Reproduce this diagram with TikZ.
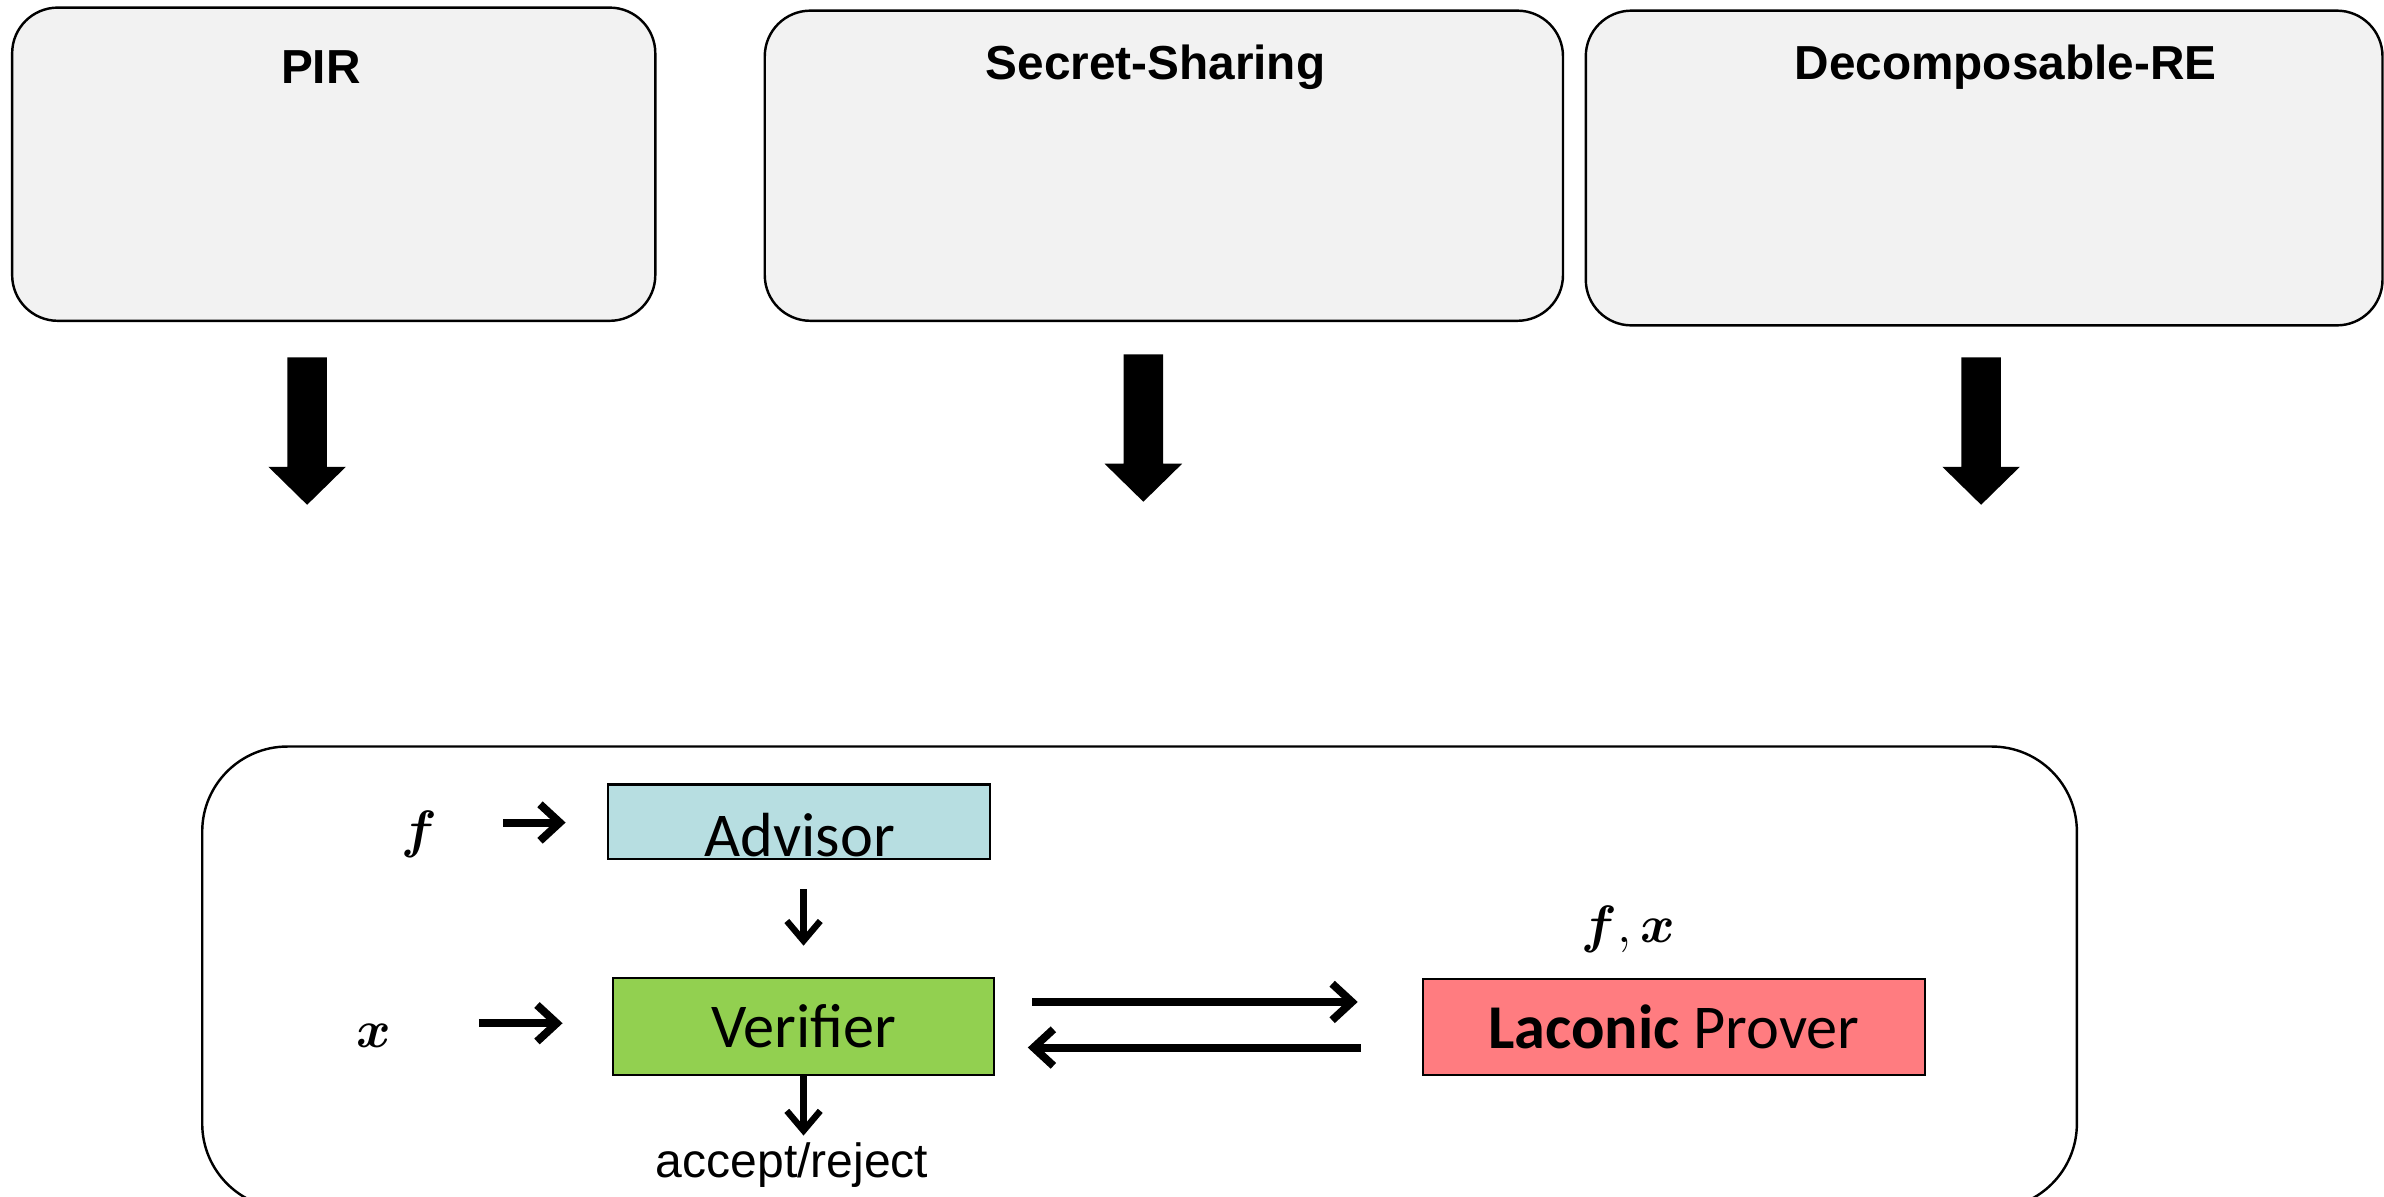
\documentclass[tikz,border=0pt]{standalone}
\usepackage{fontspec}
\usepackage{amsmath,bm}
\usetikzlibrary{arrows.meta}
\newfontfamily\headfont{Liberation Sans}
\newfontfamily\boxfont{Carlito}
\definecolor{panelfill}{HTML}{F2F2F2}
\definecolor{advfill}{HTML}{B7DEE1}
\definecolor{verfill}{HTML}{92D050}
\definecolor{prvfill}{HTML}{FF7C80}
\tikzset{
  panel/.style={draw=black, line width=0.8pt, fill=panelfill, rounded corners=15pt,
    inner sep=0pt, outer sep=0pt},
  frame/.style={draw=black, line width=0.8pt, rounded corners=28pt, inner sep=0pt, outer sep=0pt},
  party/.style={draw=black, line width=0.7pt, inner sep=0pt, outer sep=0pt,
    font=\boxfont\fontsize{20.5}{24}\selectfont},
  headtxt/.style={font=\headfont\bfseries\fontsize{15.7}{18}\selectfont, inner sep=0pt},
  mathtxt/.style={font=\fontsize{16.5}{19}\selectfont, inner sep=0pt},
  flow/.style={line width=2.6pt, -{Straight Barb[length=6.5pt,width=12pt]}},
  vflow/.style={line width=2.1pt, -{Straight Barb[length=6.5pt,width=11pt]}},
}
% block arrow pointing down: #1 = centre x, #2 = top y, #3 = tip y
\newcommand\downblock[3]{%
  \fill[black] (#1-13,#2) -- (#1+13,#2) -- (#1+13,#3-25) -- (#1+25.5,#3-25)
    -- (#1,#3) -- (#1-25.5,#3-25) -- (#1-13,#3-25) -- cycle;}
\begin{document}
\begin{tikzpicture}[x=0.5pt, y=-0.5pt]
\useasboundingbox (0,0) rectangle (1568,787);
\clip (0,0) rectangle (1568,787);

% top panels
\node[panel, minimum width=211.5pt, minimum height=103pt] (pir) at (219.5,108) {};
\node[panel, minimum width=262.5pt, minimum height=102pt] (ss) at (765.5,109) {};
\node[panel, minimum width=262pt, minimum height=103.5pt] (dre) at (1305,110.5) {};
\node[headtxt] (pirT) at (211,44) {PIR};
\node[headtxt] (ssT) at (760,44) {Secret-Sharing};
\node[headtxt] (dreT) at (1319,44) {Decomposable-RE};

% block arrows below the panels
\downblock{202}{235}{332}
\downblock{752}{233}{330}
\downblock{1303}{235}{332}

% lower frame
\node[frame, minimum width=616.5pt, minimum height=152pt] (frm) at (749.5,643) {};

% parties
\node[party, fill=advfill, minimum width=125.5pt, minimum height=24.5pt] (adv) at (525.5,540.5) {};
\node[party, draw=none, fill=none] (advT) at (526,549.5) {Advisor};
\node[party, fill=verfill, minimum width=125.5pt, minimum height=32pt] (ver) at (528.5,675) {Verifier};
\node[party, fill=prvfill, minimum width=165pt, minimum height=31.5pt] (prv) at (1101,675.5) {\textbf{Laconic} Prover};

% inputs and outputs
\node[mathtxt] (fin) at (276,549) {$\bm{f}$};
\node[mathtxt] (xin) at (246,681) {$\bm{x}$};
\node[mathtxt] (fx) at (1071,611) {$\bm{f},\bm{x}$};
\node[font=\headfont\fontsize{15.8}{18}\selectfont, inner sep=0pt] (acc) at (521,766) {accept/reject};

\coordinate (fa) at (331,541);
\coordinate (fb) at (372,541);
\coordinate (xa) at (315,673);
\coordinate (xb) at (370,673);
\draw[flow] (fa) -- (fb);
\draw[flow] (xa) -- (xb);
\draw[vflow, shorten <=10pt, shorten >=10.5pt] (adv.south -| ver.north) -- (ver.north);
\draw[vflow, shorten >=2pt] (ver.south) -- (acc.north -| ver.south);
\draw[flow, shorten <=12.5pt, shorten >=21.5pt] ([yshift=8pt]ver.east) -- ([yshift=8pt]ver.east -| prv.west);
\draw[flow, shorten <=20.5pt, shorten >=11pt] ([yshift=-7pt]prv.west |- ver.east) -- ([yshift=-7pt]ver.east);
\end{tikzpicture}
\end{document}
